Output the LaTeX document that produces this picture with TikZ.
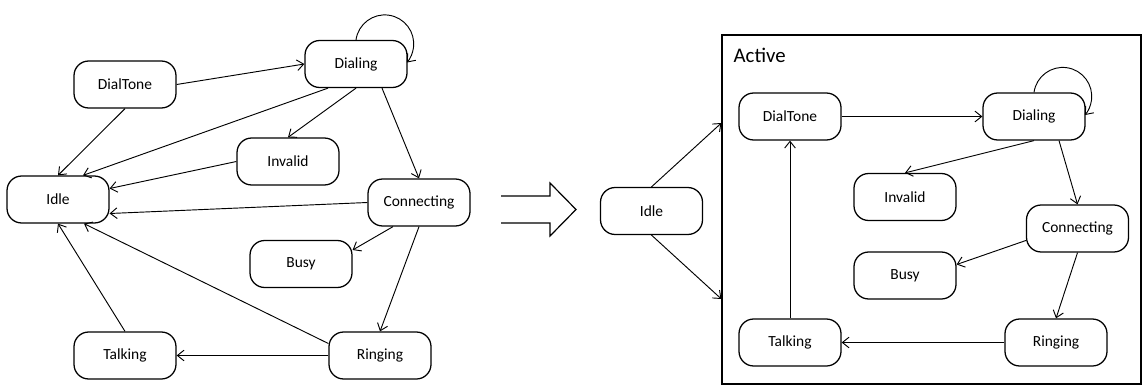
\documentclass[tikz,border=0pt]{standalone}
\usepackage{fontspec}
\setmainfont{Carlito}
\usetikzlibrary{arrows.meta,calc}
\begin{document}
\begin{tikzpicture}[x=0.75pt,y=-0.75pt,
  state/.style={draw,line width=0.95pt,rounded corners=11pt,minimum width=76.5pt,
    minimum height=35.25pt,inner sep=0pt,font=\fontsize{11.6}{14}\selectfont},
  tr/.style={draw,line width=0.7pt,-{Straight Barb[length=5pt,width=8pt]}},
  bigarrow/.style={draw,line width=0.9pt,line join=miter},
]
\useasboundingbox (0,0) rectangle (1144,392);

% ---------- flat state machine ----------
\node[state] (dt)    at (125,84.5)  {DialTone};
\node[state] (dl)    at (356,64)    {Dialing};
\node[state] (inv)   at (288,161.5) {Invalid};
\node[state] (idle)  at (58,199.5)  {Idle};
\node[state] (conn)  at (419,202.5) {Connecting};
\node[state] (busy)  at (301,264)   {Busy};
\node[state] (talk)  at (125,355.5) {Talking};
\node[state] (ring)  at (380,355.5) {Ringing};

\draw[tr] (dt.east) -- (dl.west);
\draw[tr] (dt.south) -- (idle.north);
\draw[tr] ($(dl.south)+(-28,0)$) -- ($(idle.north)+(25,0)$);
\draw[tr] (dl.south) -- (inv.north);
\draw[tr] ($(dl.south)+(26,0)$) -- (conn.north);
\draw[tr] (dl.north) arc[start angle=188,end angle=400,radius=29];
\draw[tr] (inv.west) -- ($(idle.east)+(0,-11)$);
\draw[tr] (conn.west) -- ($(idle.east)+(0,14)$);
\draw[tr] ($(ring.west)+(0,-12)$) -- ($(idle.south)+(26,0)$);
\draw[tr] (talk.north) -- (idle.south);
\draw[tr] ($(conn.south)+(-26,0)$) -- ($(busy.east)+(0,-14)$);
\draw[tr] (conn.south) -- (ring.north);
\draw[tr] (ring.west) -- (talk.east);

% ---------- transformation arrow ----------
\draw[bigarrow] (501,196) -- (550,196) -- (550,183) -- (576,209.5)
  -- (550,236) -- (550,223) -- (501,223);

% ---------- hierarchical state machine ----------
\node[draw,line width=0.9pt,minimum width=314.25pt,minimum height=261.75pt,
  inner sep=0pt] (active) at (931.5,209.5) {};
\node[anchor=west,inner sep=0pt,font=\fontsize{15.6}{18}\selectfont]
  (activelbl) at ($(active.north west)+(12,20.5)$) {Active};

\node[state] (idle2) at (651.5,211)   {Idle};
\node[state] (dt2)   at (790,116.5)   {DialTone};
\node[state] (dl2)   at (1034,116.5)  {Dialing};
\node[state] (inv2)  at (905,197)     {Invalid};
\node[state] (conn2) at (1077.5,228.5){Connecting};
\node[state] (busy2) at (905,275.5)   {Busy};
\node[state] (ring2) at (1056,342.5)  {Ringing};
\node[state] (talk2) at (790,342.5)   {Talking};

\draw[tr] (idle2.north) -- ($(active.west)+(0,-86.5)$);
\draw[tr] (idle2.south) -- ($(active.west)+(0,89.5)$);
\draw[tr] (dt2.east) -- (dl2.west);
\draw[tr] (dl2.north) arc[start angle=188,end angle=400,radius=29];
\draw[tr] (dl2.south) -- (inv2.north);
\draw[tr] ($(dl2.south)+(25,0)$) -- (conn2.north);
\draw[tr] ($(conn2.west)+(0,12)$) -- ($(busy2.east)+(0,-11)$);
\draw[tr] (conn2.south) -- (ring2.north);
\draw[tr] (ring2.west) -- (talk2.east);
\draw[tr] (talk2.north) -- (dt2.south);
\end{tikzpicture}
\end{document}
